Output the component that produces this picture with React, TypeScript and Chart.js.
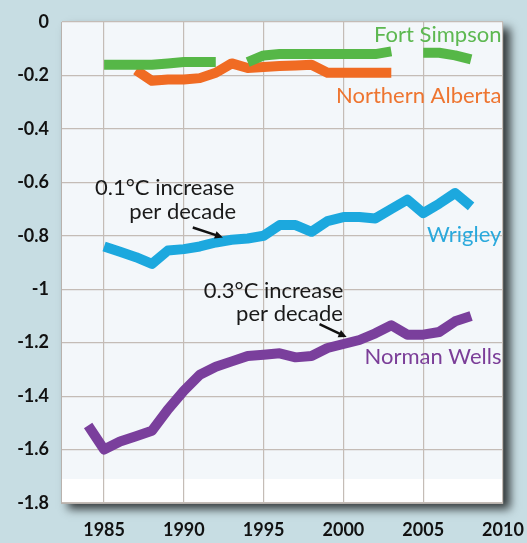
import React, { useEffect, useRef } from "react";
import { Chart, registerables } from "chart.js";

Chart.register(...registerables);

const years = [1984, 1985, 1986, 1987, 1988, 1989, 1990, 1991, 1992, 1993, 1994, 1995, 1996, 1997, 1998, 1999, 2000, 2001, 2002, 2003, 2004, 2005, 2006, 2007, 2008];

const normanWells = [-1.51, -1.6, -1.57, -1.55, -1.53, -1.45, -1.38, -1.32, -1.29, -1.27, -1.25, -1.245, -1.24, -1.255, -1.25, -1.22, -1.205, -1.19, -1.165, -1.135, -1.17, -1.17, -1.16, -1.12, -1.1];

const wrigley = [null, -0.84, -0.86, -0.88, -0.905, -0.855, -0.85, -0.84, -0.825, -0.815, -0.81, -0.8, -0.76, -0.76, -0.785, -0.745, -0.73, -0.73, -0.735, -0.7, -0.665, -0.715, -0.68, -0.64, -0.69];

const fortSimpson = [null, -0.16, -0.16, -0.16, -0.16, -0.155, -0.15, -0.15, -0.15, null, -0.15, -0.125, -0.12, -0.12, -0.12, -0.12, -0.12, -0.12, -0.12, -0.11, null, -0.115, -0.115, -0.125, -0.14];

const northernAlberta = [null, null, null, -0.18, -0.22, -0.215, -0.215, -0.21, -0.19, -0.155, -0.172, -0.168, -0.165, -0.163, -0.16, -0.19, -0.19, -0.19, -0.19, -0.19, null, null, null, null, null];

const xTicks = [1985, 1990, 1995, 2000, 2005, 2010];
const yTicks = [0, -0.2, -0.4, -0.6, -0.8, -1, -1.2, -1.4, -1.6, -1.8];

const seriesLabels = [
  { text: "Fort Simpson", x: 2009.9, y: -0.049, color: "#5db851" },
  { text: "Northern Alberta", x: 2009.9, y: -0.276, color: "#ee7530" },
  { text: "Wrigley", x: 2009.9, y: -0.795, color: "#2aa9dc" },
  { text: "Norman Wells", x: 2009.9, y: -1.254, color: "#7b3e98" },
];

const noteLines = [
  { text: "0.1°C increase", x: 1984.43, y: -0.619 },
  { text: "per decade", x: 1986.58, y: -0.709 },
  { text: "0.3°C increase", x: 1991.25, y: -1.007 },
  { text: "per decade", x: 1993.27, y: -1.093 },
];

const arrows = [
  { x1: 1990.56, y1: -0.769, x2: 1992.45, y2: -0.806 },
  { x1: 1998.5, y1: -1.131, x2: 2000.2, y2: -1.179 },
];

const toPoints = (vals: (number | null)[]) => years.map((yr, i) => ({ x: yr, y: vals[i] }));

const FONT = "Lato, 'Open Sans', sans-serif";

const decorPlugin = {
  id: "decor",
  beforeDraw(chart: any) {
    const { ctx, chartArea: a, width, height } = chart;
    ctx.save();
    ctx.fillStyle = "#c7dde3";
    ctx.fillRect(0, 0, width, height);
    ctx.shadowColor = "rgba(0,0,0,0.75)";
    ctx.shadowBlur = 9;
    ctx.shadowOffsetX = 7;
    ctx.shadowOffsetY = 6;
    ctx.fillStyle = "#ffffff";
    ctx.fillRect(a.left, a.top, a.right - a.left, a.bottom - a.top);
    ctx.restore();
    ctx.save();
    const yScale = chart.scales.y;
    const band = yScale.getPixelForValue(-1.71);
    ctx.fillStyle = "#f3f7fa";
    ctx.fillRect(a.left, a.top, a.right - a.left, band - a.top);
    ctx.restore();
  },
  afterDatasetsDraw(chart: any) {
    const { ctx } = chart;
    const xs = chart.scales.x;
    const ys = chart.scales.y;
    ctx.save();
    ctx.textBaseline = "middle";
    ctx.font = `22px ${FONT}`;
    ctx.textAlign = "right";
    seriesLabels.forEach((l) => {
      ctx.fillStyle = l.color;
      ctx.fillText(l.text, xs.getPixelForValue(l.x), ys.getPixelForValue(l.y));
    });
    ctx.textAlign = "left";
    ctx.fillStyle = "#1a1a1a";
    ctx.font = `22px ${FONT}`;
    noteLines.forEach((l) => {
      ctx.fillText(l.text, xs.getPixelForValue(l.x), ys.getPixelForValue(l.y));
    });
    ctx.strokeStyle = "#111";
    ctx.fillStyle = "#111";
    ctx.lineWidth = 2.5;
    arrows.forEach((ar) => {
      const x1 = xs.getPixelForValue(ar.x1);
      const y1 = ys.getPixelForValue(ar.y1);
      const x2 = xs.getPixelForValue(ar.x2);
      const y2 = ys.getPixelForValue(ar.y2);
      const ang = Math.atan2(y2 - y1, x2 - x1);
      const hl = 9;
      ctx.beginPath();
      ctx.moveTo(x1, y1);
      ctx.lineTo(x2 - Math.cos(ang) * 5, y2 - Math.sin(ang) * 5);
      ctx.stroke();
      ctx.beginPath();
      ctx.moveTo(x2, y2);
      ctx.lineTo(x2 - hl * Math.cos(ang - 0.45), y2 - hl * Math.sin(ang - 0.45));
      ctx.lineTo(x2 - hl * Math.cos(ang + 0.45), y2 - hl * Math.sin(ang + 0.45));
      ctx.closePath();
      ctx.fill();
    });
    ctx.restore();
  },
};

export default function App() {
  const ref = useRef<HTMLCanvasElement | null>(null);
  useEffect(() => {
    if (!ref.current) return;
    const lineStyle = {
      borderWidth: 10,
      pointRadius: 0,
      tension: 0,
      fill: false,
      spanGaps: false,
      borderJoinStyle: "round" as const,
      borderCapStyle: "butt" as const,
    };
    const chart = new Chart(ref.current, {
      type: "line",
      data: {
        datasets: [
          { label: "Fort Simpson", data: toPoints(fortSimpson), borderColor: "#56b747", ...lineStyle },
          { label: "Northern Alberta", data: toPoints(northernAlberta), borderColor: "#f06b23", ...lineStyle },
          { label: "Wrigley", data: toPoints(wrigley), borderColor: "#1ca8de", ...lineStyle },
          { label: "Norman Wells", data: toPoints(normanWells), borderColor: "#7a3f9c", ...lineStyle },
        ],
      },
      options: {
        animation: false,
        responsive: false,
        maintainAspectRatio: false,
        layout: { padding: { left: 0, right: 24, top: 22, bottom: 0 } },
        plugins: { legend: { display: false }, tooltip: { enabled: false } },
        scales: {
          x: {
            type: "linear",
            min: 1982.3,
            max: 2010,
            afterBuildTicks: (s: any) => {
              s.ticks = xTicks.map((v) => ({ value: v }));
            },
            afterFit: (s: any) => {
              s.height = 40;
              s.paddingLeft = 0;
              s.paddingRight = 0;
            },
            grid: { color: "#c4bcb6", lineWidth: 1.2, drawTicks: false },
            border: { display: true, color: "#b8b2ad", width: 1 },
            ticks: {
              padding: 16,
              color: "#111",
              font: { family: FONT, size: 18, weight: "bold" },
              callback: (v: any) => String(v),
              maxRotation: 0,
              autoSkip: false,
            },
          },
          y: {
            type: "linear",
            min: -1.8,
            max: 0,
            afterBuildTicks: (s: any) => {
              s.ticks = yTicks.map((v) => ({ value: v }));
            },
            afterFit: (s: any) => {
              s.width = 61;
              s.paddingTop = 0;
              s.paddingBottom = 0;
            },
            grid: { color: "#c4bcb6", lineWidth: 1.2, drawTicks: false },
            border: { display: true, color: "#b8b2ad", width: 1 },
            ticks: {
              padding: 12,
              color: "#111",
              font: { family: FONT, size: 18, weight: "bold" },
              callback: (v: any) => String(Math.round(Number(v) * 10) / 10),
              autoSkip: false,
            },
          },
        },
      },
      plugins: [decorPlugin],
    });
    return () => chart.destroy();
  }, []);
  return (
    <div style={{ position: "absolute", left: 0, top: 0, width: 527, height: 543 }}>
      <canvas ref={ref} width={527} height={543} style={{ width: 527, height: 543, display: "block" }} />
    </div>
  );
}
